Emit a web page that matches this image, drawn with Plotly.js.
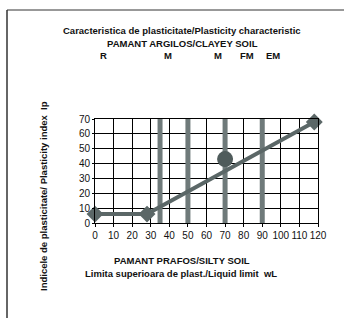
<!DOCTYPE html>
<html>
<head>
<meta charset="utf-8">
<script src="https://cdn.plot.ly/plotly-3.0.1.min.js"></script>
<style>
html,body{margin:0;padding:0;background:#fff;}
#chart{width:344px;height:318px;}
</style>
</head>
<body>
<div id="chart"></div>
<script>
// A-line points (liquid limit wL, plasticity index Ip)
var lineWL = [0, 28, 118];
var lineIp = [6, 6, 68];
// sample point
var sampleWL = [70];
var sampleIp = [43];
// zone limits (thick grey verticals)
var zoneLimits = [35, 50, 70, 90];
// zone labels at top
var zoneLabels = ["R", "M", "M", "FM", "EM"];
var zoneLabelX = [4.5, 39.5, 66, 82, 96];
var xTicks = [0, 10, 20, 30, 40, 50, 60, 70, 80, 90, 100, 110, 120];
var yTicks = [0, 10, 20, 30, 40, 50, 60, 70];

var FONT = "Liberation Sans, Arial, sans-serif";
var dark = "#5b6767";

var traces = [];
zoneLimits.forEach(function (z) {
  traces.push({
    x: [z, z], y: [0, 70], mode: "lines", type: "scatter",
    line: {color: "#6f7a7a", width: 5}, hoverinfo: "skip", showlegend: false
  });
});
traces.push({
  x: lineWL, y: lineIp, mode: "lines+markers", type: "scatter",
  line: {color: dark, width: 4},
  marker: {symbol: "diamond", size: 13, color: dark},
  showlegend: false, cliponaxis: false
});
traces.push({
  x: sampleWL, y: sampleIp, mode: "markers", type: "scatter",
  marker: {symbol: "circle", size: 16, color: "#4f5b5b"},
  showlegend: false, cliponaxis: false
});

var annotations = [];
function ann(text, px, py, size, extra) {
  var a = {text: text, xref: "paper", yref: "paper", x: (px - 95) / 223, y: (223 - py) / 104,
    xanchor: "center", yanchor: "middle", showarrow: false,
    font: {size: size, color: "#111", family: FONT}};
  if (extra) for (var k in extra) a[k] = extra[k];
  return a;
}
annotations.push(ann("<b>Caracteristica de plasticitate/Plasticity characteristic</b>", 182, 31, 9.5));
annotations.push(ann("<b>PAMANT ARGILOS/CLAYEY SOIL</b>", 182, 44, 9.5));
zoneLabels.forEach(function (t, i) {
  annotations.push({text: "<b>" + t + "</b>", xref: "x", yref: "paper", x: zoneLabelX[i], y: (223 - 56) / 104,
    xanchor: "center", yanchor: "middle", showarrow: false,
    font: {size: 9.5, color: "#111", family: FONT}});
});
annotations.push(ann("<b>PAMANT PRAFOS/SILTY SOIL</b>", 182, 260, 9.5));
annotations.push(ann("<b>Limita superioara de plast./Liquid limit  wL</b>", 181, 273, 9.5));
annotations.push(ann("<b>Indicele de plasticitate/ Plasticity index  Ip</b>", 43, 196, 9.5, {textangle: -90}));

var layout = {
  width: 344, height: 318,
  margin: {l: 95, r: 26, t: 119, b: 95, pad: 0},
  paper_bgcolor: "#fff", plot_bgcolor: "#fff",
  showlegend: false,
  xaxis: {
    range: [0, 120], tickvals: xTicks, ticktext: xTicks.map(String), tickangle: 0,
    showgrid: true, gridcolor: "#000", gridwidth: 1,
    zeroline: false, showline: true, linecolor: "#000", linewidth: 1, mirror: true,
    ticks: "outside", ticklen: 3, tickcolor: "#000",
    tickfont: {size: 10, color: "#111", family: FONT}, fixedrange: true
  },
  yaxis: {
    range: [0, 70], tickvals: yTicks, ticktext: yTicks.map(String),
    showgrid: true, gridcolor: "#000", gridwidth: 1,
    zeroline: false, showline: true, linecolor: "#000", linewidth: 1, mirror: true,
    ticks: "outside", ticklen: 2, tickcolor: "#000",
    tickfont: {size: 10, color: "#111", family: FONT}, fixedrange: true
  },
  annotations: annotations,
  shapes: [
    {type: "line", xref: "paper", yref: "paper", x0: (7 - 95) / 223, x1: (344 - 95) / 223,
     y0: (223 - 10) / 104, y1: (223 - 10) / 104, line: {color: "#333", width: 1}},
    {type: "line", xref: "paper", yref: "paper", x0: (7 - 95) / 223, x1: (7 - 95) / 223,
     y0: (223 - 10) / 104, y1: (223 - 318) / 104, line: {color: "#333", width: 1.5}}
  ]
};

Plotly.newPlot("chart", traces, layout, {staticPlot: true, displayModeBar: false});
</script>
</body>
</html>
